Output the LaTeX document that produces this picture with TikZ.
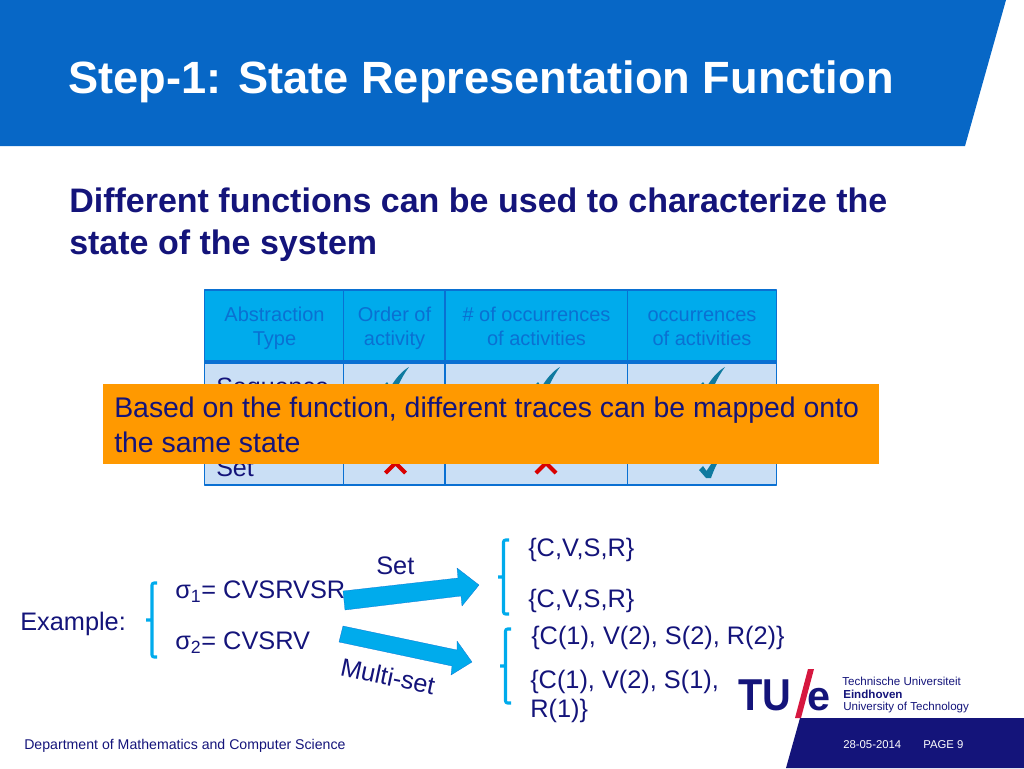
\documentclass[tikz,border=0pt]{standalone}
\usepackage{fontspec}
\setmainfont{Liberation Sans}
\definecolor{headblue}{HTML}{0767C6}
\definecolor{navy}{HTML}{14147A}
\definecolor{sky}{HTML}{00ABEC}
\definecolor{rowblue}{HTML}{CADFF5}
\definecolor{gridblue}{HTML}{0A70D2}
\definecolor{tick}{HTML}{0F7A9F}
\definecolor{amber}{HTML}{FF9900}
\definecolor{tuered}{HTML}{D6173F}
\newcommand{\fsize}[2]{\fontsize{#1}{#2}\selectfont}
\tikzset{
  txt/.style={anchor=base west,inner sep=0pt,text=navy,font=\fsize{19}{26}},
  headcell/.style={anchor=base,inner sep=0pt,align=center,text=gridblue,font=\fsize{15}{18}},
  grid/.style={draw=gridblue,line width=1.2pt},
  brace/.style={draw=sky,line width=2.3pt,line join=round,rounded corners=1.5pt},
  bigarrow/.style={fill=sky,draw=gridblue,line width=.2pt},
  tickmark/.style={fill=tick},
  crossmark/.style={draw=red!85!black,line width=3pt},
  foot/.style={anchor=base west,inner sep=0pt,font=\fsize{10.6}{12}},
  logotxt/.style={anchor=base west,inner sep=0pt,text=navy,font=\fsize{8.7}{10}}
}
\begin{document}
\begin{tikzpicture}[x=.75pt,y=-.75pt,line join=round]
  \useasboundingbox (0,0) rectangle (1024,768);
  % title bar
  \fill[headblue] (0,0)--(1006,0)--(965,146)--(0,146)--cycle;
  \node[anchor=base west,inner sep=0pt,text=white,font=\fsize{33.9}{36}\bfseries] (title) at (68,93) {Step-1: State Representation Function};
  \node[txt,align=left,font=\fsize{25.5}{31.5}\bfseries] (subtitle) at (69,254) {Different functions can be used to characterize the\\state of the system};
  % table
  \fill[sky] (204.5,290) rectangle (776.5,362);
  \fill[rowblue] (204.5,362) rectangle (776.5,485);
  \draw[grid] (204.5,290) rectangle (776.5,485);
  \foreach \x in {343.5,445,627.5}
    \draw[grid] (\x,290)--(\x,485);
  \draw[draw=gridblue,line width=2.5pt] (204.5,362)--(776.5,362);
  \node[headcell] (abstr) at (274.5,345) {Abstraction\\Type};
  \node[headcell] (order) at (394.5,345) {Order of\\activity};
  \node[headcell] (occnum) at (536.5,345) {\# of occurrences\\of activities};
  \node[headcell] (occ) at (702,345) {occurrences\\of activities};
  \node[txt,font=\fsize{18.8}{22}] (seq) at (216,395) {Sequence};
  \node[txt,font=\fsize{18.8}{22}] (setrow) at (216,476) {Set};
  \foreach \x/\y in {392/394,543/394,708/394,708/478}
    \fill[tickmark] (\x-2,\y)--(\x-9,\y-8)--(\x-5,\y-12)--(\x-1.5,\y-7)..controls (\x+4,\y-16) and (\x+10,\y-23) .. (\x+17,\y-27)..controls (\x+11,\y-19) and (\x+6,\y-9) .. (\x+3,\y)--cycle;
  \foreach \x in {395.5,546}
    \draw[crossmark] (\x-10,453)--(\x+10,473) (\x+10,453)--(\x-10,473);
  % orange box
  \fill[amber] (103,384) rectangle (879,464);
  \node[txt,align=left,font=\fsize{21.3}{26}] (note) at (114,452) {Based on the function, different traces can be mapped onto\\the same state};
  % example
  \node[txt] (example) at (20,630) {Example:};
  \node[txt] (sigmaone) at (175,598) {σ\textsubscript{1}= CVSRVSR};
  \node[txt] (sigmatwo) at (175,649) {σ\textsubscript{2}= CVSRV};
  \node[txt] (setlbl) at (376,574) {Set};
  \node[txt,rotate=-12,anchor=base west] (multilbl) at (339,675) {Multi-set};
  \draw[brace] (157,583)--(152,583)--(152,657)--(157,657) (152,620)--(146,620);
  \draw[brace] (509,540)--(503.5,540)--(503.5,614)--(509,614) (503.5,577)--(498,577);
  \draw[brace] (511,629)--(505.5,629)--(505.5,703)--(511,703) (505.5,666)--(500,666);
  \fill[bigarrow] (343,591)--(458,578)--(457,568)--(479,585)--(462,606)--(461,596)--(345,610)--cycle;
  \fill[bigarrow] (343,626)--(457,650)--(457,641)--(472,662)--(451,675)--(452,666)--(339,642)--cycle;
  \node[txt] (resa) at (528,556) {\{C,V,S,R\}};
  \node[txt] (resb) at (528,607) {\{C,V,S,R\}};
  \node[txt] (resc) at (531,644) {\{C(1), V(2), S(2), R(2)\}};
  \node[txt,align=left,font=\fsize{19}{21.5}] (resd) at (530,717) {\{C(1), V(2), S(1),\\R(1)\}};
  % footer
  \fill[navy] (800,718)--(1024,718)--(1024,768)--(786,768)--cycle;
  \node[foot,text=navy] (dept) at (24,749) {Department of Mathematics and Computer Science};
  \node[foot,text=white,font=\fsize{8.5}{10}] (date) at (843,748) {28-05-2014};
  \node[foot,text=white,font=\fsize{8.5}{10}] (page) at (923,748) {PAGE 9};
  % logo
  \node[anchor=base west,inner sep=0pt,text=navy,font=\fsize{33.5}{40}\bfseries,xscale=.89] (tu) at (738,710) {TU};
  \fill[tuered] (808,669)--(814,669)--(801,718)--(795,718)--cycle;
  \node[anchor=base west,inner sep=0pt,text=navy,font=\fsize{31}{40}\bfseries] (e) at (807,710) {e};
  \node[logotxt] (tue) at (842,685) {Technische Universiteit};
  \node[logotxt,font=\fsize{8.7}{10}\bfseries] (ein) at (843,698) {Eindhoven};
  \node[logotxt] (uni) at (843,710) {University of Technology};
\end{tikzpicture}
\end{document}
